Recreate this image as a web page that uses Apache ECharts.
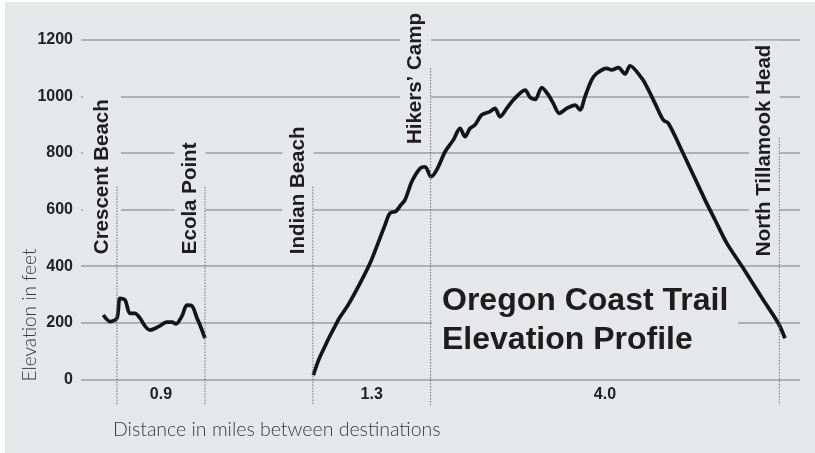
<!DOCTYPE html>
<html><head><meta charset="utf-8">
<script src="https://cdn.jsdelivr.net/npm/echarts@6/dist/echarts.min.js"></script>
<style>html,body{margin:0;padding:0;background:#fff}#c{width:815px;height:453px}</style>
</head><body><div id="c"></div>
<script>
// Trail profile, x = drawn distance (miles along the chart), y = elevation in feet
const segmentOneX = [-0.152,-0.077,0.0,0.034,0.090,0.145,0.201,0.256,0.312,0.368,0.457,0.557,0.613,0.657,0.724,0.779,0.835,0.891,0.924,0.980];
const segmentOneY = [227,204,216,286,280,233,233,216,188,174,185,202,202,196,224,262,259,216,192,145];
const segmentTwoX = [2.185,2.259,2.463,2.571,2.704,2.816,2.905,2.982,3.038,3.105,3.149,3.205,3.280,3.372,3.428,3.495,3.558,3.651,3.743,3.817,3.873,3.929,3.984,4.058,4.151,4.206,4.262,4.337,4.410,4.542,4.597,4.653,4.727,4.800,4.855,4.922,5.004,5.097,5.152,5.208,5.282,5.338,5.449,5.505,5.578,5.653,5.709,5.839,5.895,5.987,6.079,6.135,6.265,6.543,6.655,6.785,6.969,7.192,7.359,7.433];
const segmentTwoY = [15,80,210,262,339,410,481,545,587,594,612,634,698,745,751,716,740,804,846,887,857,887,899,934,946,957,928,957,987,1022,996,989,1031,1005,975,940,957,969,952,999,1058,1081,1099,1093,1101,1079,1108,1064,1034,975,916,905,822,634,563,481,392,280,198,145];

const stationNames = ['Crescent Beach','Ecola Point','Indian Beach','Hikers\u2019 Camp','North Tillamook Head'];
const stationX = [0, 0.98, 2.18, 3.49, 7.37];
const stationLineTop = [681, 681, 681, 1100, 853];
const stationLabelBase = [428, 428, 428, 817, 421];

const legLabels = ['0.9','1.3','4.0'];
const legFrom = [0, 2, 3];
const legTo = [1, 3, 4];

const yTicks = [0,200,400,600,800,1000,1200];

const BG = '#e6e7e9';
const chart = echarts.init(document.getElementById('c'), null, {renderer:'canvas'});

const stationData = stationNames.map((n,i)=>[stationX[i], stationLineTop[i], stationLabelBase[i], n]);
const legData = legLabels.map((t,i)=>[(stationX[legFrom[i]]+stationX[legTo[i]])/2, -53, t]);

chart.setOption({
  backgroundColor: BG,
  animation: false,
  title: {
    text: 'Oregon Coast Trail\nElevation Profile',
    left: 432, top: 274,
    padding: [8, 10, 8, 10],
    backgroundColor: BG,
    textStyle: {fontFamily:'Liberation Sans', fontWeight:'bold', fontSize:32, lineHeight:39, color:'#1e1c1d'}
  },
  graphic: [
    {type:'rect', shape:{x:0,y:0,width:5,height:453}, style:{fill:'#fff'}, silent:true},
    {type:'rect', shape:{x:0,y:0,width:815,height:2}, style:{fill:'#fff'}, silent:true},
    {type:'text', x:30, y:315, rotation:Math.PI/2,
      style:{text:'Elevation in feet', font:'300 19px Lato', fill:'#3a3a3a', align:'center', verticalAlign:'middle'}},
    {type:'text', x:113, y:430,
      style:{text:'Distance in miles between destinations', font:'300 19.5px Lato', fill:'#3a3a3a', align:'left', verticalAlign:'middle'}}
  ],
  grid: {left:81, right:15, top:39.7, bottom:73.7},
  xAxis: {type:'value', min:-0.4, max:7.6, show:false},
  yAxis: {
    type:'value', min:yTicks[0], max:yTicks[yTicks.length-1], interval:200,
    axisLine:{show:false}, axisTick:{show:false},
    axisLabel:{fontFamily:"'Liberation Sans Narrow','Liberation Sans'", fontWeight:'bold', fontSize:16, color:'#222', margin:8,
      formatter: v => String(v)},
    splitLine:{lineStyle:{color:'#9d9ea0', width:1.5}}
  },
  series: [
    {type:'line', data: segmentOneX.map((x,i)=>[x, segmentOneY[i]]), smooth:0.3, symbol:'none',
      lineStyle:{color:'#151515', width:3.7}, z:3},
    {type:'line', data: segmentTwoX.map((x,i)=>[x, segmentTwoY[i]]), smooth:0.3, symbol:'none',
      lineStyle:{color:'#151515', width:3.7}, z:3},
    {type:'custom', data: stationData, clip:false, z:4,
      renderItem: function(params, api){
        const x = api.value(0);
        const top = api.coord([x, api.value(1)]);
        const bot = api.coord([x, -91]);
        const lab = api.coord([x, api.value(2)]);
        const name = stationData[params.dataIndex][3];
        const pad = params.dataIndex === 0 ? [13,4,4,4] : [6,4,4,4];
        return {type:'group', children:[
          {type:'text', x: lab[0]-15, y: lab[1], rotation: Math.PI/2,
            style:{text:name, font:'bold 20.5px "Liberation Sans"', fill:'#1e1c1d', align:'left', verticalAlign:'middle',
              backgroundColor:BG, padding:pad}},
          {type:'line', shape:{x1:top[0], y1:top[1], x2:bot[0], y2:bot[1]},
            style:{stroke:'#6f6f6f', lineWidth:1, lineDash:[1.5,1.5]}}
        ]};
      }
    },
    {type:'custom', data: legData, clip:false, z:4,
      renderItem: function(params, api){
        const p = api.coord([api.value(0), api.value(1)]);
        return {type:'text', x:p[0], y:p[1],
          style:{text:legData[params.dataIndex][2], font:"bold 16px 'Liberation Sans Narrow','Liberation Sans'", fill:'#222', align:'center', verticalAlign:'middle'}};
      }
    }
  ]
});
</script></body></html>
